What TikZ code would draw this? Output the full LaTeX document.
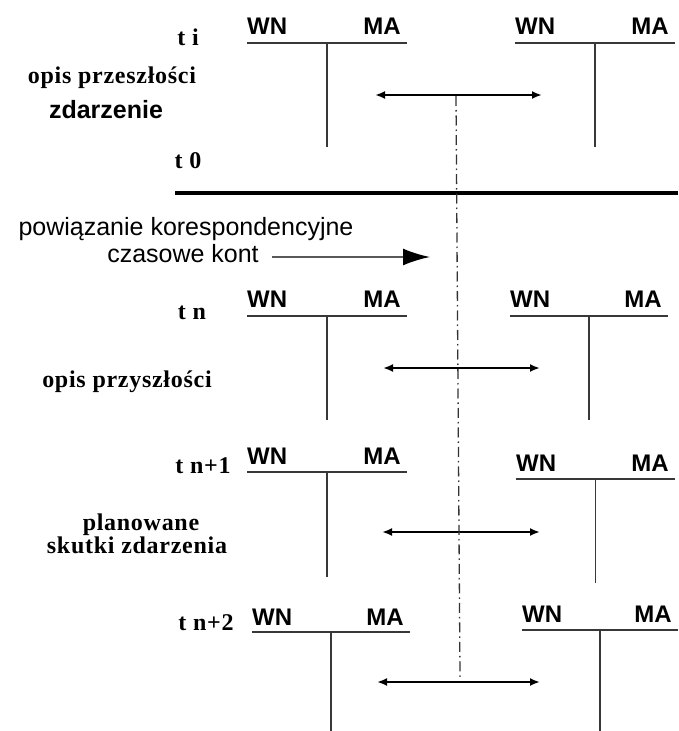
\documentclass[tikz,border=0pt]{standalone}
\usepackage{fontspec}
\setmainfont{Liberation Serif}
\newfontfamily\sansfont{Liberation Sans}
\newfontfamily\spacedserif[LetterSpace=3, BoldFont={* Bold}]{Liberation Serif}
\usetikzlibrary{arrows.meta}

\tikzset{
  tlabel/.style={font=\spacedserif\bfseries\fontsize{24}{27}\selectfont, inner sep=0pt, anchor=base},
  side/.style={font=\sansfont\bfseries\fontsize{24}{28}\selectfont, inner sep=0pt},
  plain/.style={font=\sansfont\fontsize{25}{27}\selectfont, inner sep=0pt, anchor=base},
  ledger/.style={draw=black!78, line width=1.5pt},
  flow/.style={line width=2pt, {Latex[length=10pt,width=8pt]}-{Latex[length=10pt,width=8pt]}},
  pointer/.style={draw=black!65, line width=2pt, -{Latex[length=27pt,width=17pt,color=black]}},
  divider/.style={line width=4pt},
  axis/.style={draw=black!80, line width=1.3pt, dash pattern=on 10pt off 4pt on 1.5pt off 4pt},
}

% T-account: name, left x, right x, rule y, stem bottom y, label baseline
\newcommand\taccount[6]{%
  \coordinate (#1-l) at (#2,#4);
  \coordinate (#1-r) at (#3,#4);
  \coordinate (#1-top) at ({(#2+#3)/2},#4);
  \coordinate (#1-bot) at ({(#2+#3)/2},#5);
  \node[side, anchor=base west] (#1-wn) at (#2,#6) {WN};
  \node[side, anchor=base east] (#1-ma) at ({#3-6},#6) {MA};
  \draw[ledger] (#1-l) -- (#1-r);
  \draw[ledger] (#1-top) -- (#1-bot);
}

\begin{document}
\begin{tikzpicture}[x=1pt, y=-1pt]
  \fill[white] (0,0) rectangle (678,731);
  \useasboundingbox (0,0) rectangle (678,731);

  % ---- past: t i ... t 0
  \node[tlabel] (ti) at (188,45) {t i};
  \node[tlabel] (past) at (112,83) {opis przeszłości};
  \node[plain, font=\sansfont\bfseries\fontsize{25}{27}\selectfont] (event) at (106,118) {zdarzenie};
  \node[tlabel] (t0) at (188,168) {t 0};

  \taccount{a1}{247}{407}{43}{147}{34}
  \taccount{b1}{515}{675}{43}{147}{34}
  \coordinate (f1l) at (375,95);
  \coordinate (f1r) at (542,95);
  \draw[flow] (f1l) -- (f1r);

  % ---- present divider
  \coordinate (divl) at (175,193);
  \coordinate (divr) at (678,193);
  \draw[divider] (divl) -- (divr);

  % ---- correspondence note
  \node[plain] (corr) at (186,235) {powiązanie korespondencyjne};
  \node[plain] (kont) at (183,262) {czasowe kont};
  \coordinate (ptrs) at (272,257);
  \coordinate (ptre) at (430,257);
  \draw[pointer] (ptrs) -- (ptre);

  % ---- future: t n
  \node[tlabel] (tn) at (192,319) {t n};
  \node[tlabel] (future) at (127,387) {opis przyszłości};
  \taccount{a2}{247}{407}{316}{420}{307}
  \taccount{b2}{510}{668}{316}{420}{307}
  \coordinate (f2l) at (383,368);
  \coordinate (f2r) at (540,368);
  \draw[flow] (f2l) -- (f2r);

  % ---- t n+1
  \node[tlabel] (tn1) at (203,473) {t n+1};
  \node[tlabel] (plan1) at (141,530) {planowane};
  \node[tlabel] (plan2) at (137,553) {skutki zdarzenia};
  \taccount{a3}{247}{407}{472}{577}{464}
  \taccount{b3}{516}{675}{479}{583}{471}
  \coordinate (f3l) at (382,532);
  \coordinate (f3r) at (540,532);
  \draw[flow] (f3l) -- (f3r);

  % ---- t n+2
  \node[tlabel] (tn2) at (206,630) {t n+2};
  \taccount{a4}{252}{410}{632}{731}{625}
  \taccount{b4}{522}{678}{630}{731}{622}
  \coordinate (f4l) at (377,682);
  \coordinate (f4r) at (540,682);
  \draw[flow] (f4l) -- (f4r);

  % ---- time axis
  \coordinate (axtop) at (456,96);
  \coordinate (axbot) at (460,677);
  \draw[axis] (axtop) -- (axbot);
\end{tikzpicture}
\end{document}
